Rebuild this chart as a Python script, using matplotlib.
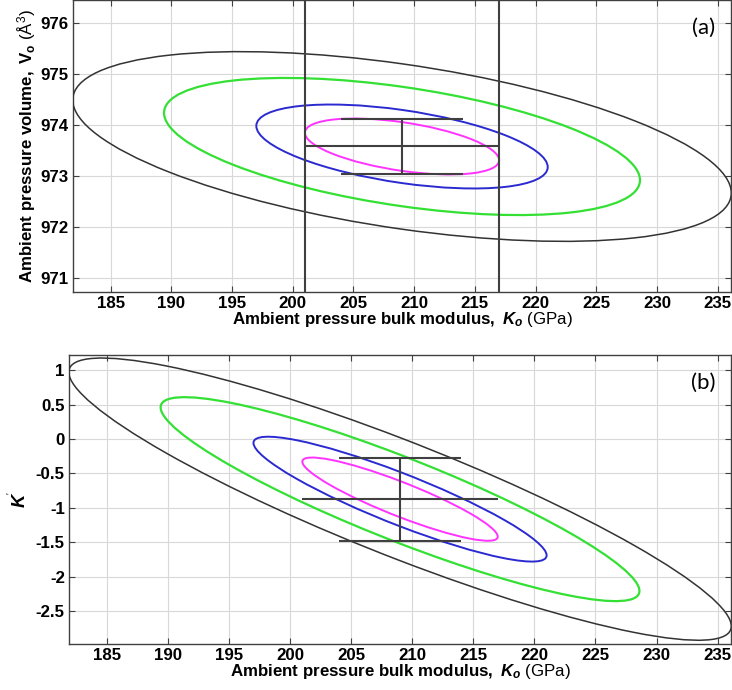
import numpy as np
import matplotlib
matplotlib.use("Agg")
import matplotlib.pyplot as plt
from matplotlib.patches import Ellipse

plt.rcParams['font.family'] = ['Liberation Sans', 'DejaVu Sans']
plt.rcParams['mathtext.fontset'] = 'custom'
plt.rcParams['mathtext.rm'] = 'Liberation Sans'
plt.rcParams['mathtext.bf'] = 'Liberation Sans:bold'
plt.rcParams['mathtext.it'] = 'Liberation Sans:italic'
plt.rcParams['mathtext.bfit'] = 'Liberation Sans:italic:bold'

# fitted parameters (value, 1-sigma) and correlations
K0, sK0 = 209.0, 8.0          # GPa
V0, sV0 = 973.58, 0.55        # A^3
Kp, sKp = -0.875, 0.605
rho_KV = -0.49
rho_KKp = -0.90

# confidence ellipse scale factors (sqrt of chi2, 2 parameters)
levels = [1.0, 1.5, 2.45, 3.39]
level_colors = ['#ff33ff', '#2a2ad0', '#33e033', '#333333']
level_widths = [1.4, 1.4, 1.6, 1.1]

cap_half = 5.0  # GPa, half-width of the caps on the vertical error bar

xticks = [185, 190, 195, 200, 205, 210, 215, 220, 225, 230, 235]
yticks_a = [971, 972, 973, 974, 975, 976]
yticks_b = [-2.5, -2, -1.5, -1, -0.5, 0, 0.5, 1]
xlim = (181.9, 236.1)
ylim_a = (970.72, 976.45)
ylim_b = (-2.98, 1.22)

TICK = 12.2
LAB = 12.2
EDGE = '#404040'


def conf_ellipses(ax, x0, sx, y0, sy, rho):
    cov = np.array([[sx**2, rho*sx*sy], [rho*sx*sy, sy**2]])
    vals, vecs = np.linalg.eigh(cov)
    ang = np.degrees(np.arctan2(vecs[1, 1], vecs[0, 1]))
    for s, c, lw in zip(levels, level_colors, level_widths):
        e = Ellipse((x0, y0), 2*s*np.sqrt(vals[1]), 2*s*np.sqrt(vals[0]),
                    angle=ang, fill=False, edgecolor=c, linewidth=lw, zorder=3)
        ax.add_patch(e)


def style(ax, yticks, ylim, ytl):
    ax.set_xlim(*xlim)
    ax.set_ylim(*ylim)
    ax.set_xticks(xticks)
    ax.set_xticklabels([str(t) for t in xticks], fontweight='bold', fontsize=TICK)
    ax.set_yticks(yticks)
    ax.set_yticklabels(ytl, fontweight='bold', fontsize=TICK)
    ax.grid(True, color='#d8d8d8', linewidth=0.8)
    ax.set_axisbelow(True)
    ax.tick_params(direction='in', top=True, right=True, length=4,
                   color=EDGE, pad=3)
    for sp in ax.spines.values():
        sp.set_color(EDGE)
        sp.set_linewidth(1.0)
    ax.set_xlabel(r'$\mathbf{Ambient\ pressure\ bulk\ modulus,\ }\mathbfit{K_o}$ (GPa)',
                  fontsize=LAB, labelpad=-1)


fig = plt.figure(figsize=(7.32, 6.9), dpi=100)

# (a) K0 - V0
ax1 = fig.add_axes([0.0997, 0.5768, 0.899, 0.4225])
conf_ellipses(ax1, K0, sK0, V0, sV0, rho_KV)
ax1.axvline(K0 - sK0, color=EDGE, lw=1.5, zorder=4)
ax1.axvline(K0 + sK0, color=EDGE, lw=1.5, zorder=4)
ax1.hlines(V0, K0 - sK0, K0 + sK0, color=EDGE, lw=1.5, zorder=4)
ax1.vlines(K0, V0 - sV0, V0 + sV0, color=EDGE, lw=1.5, zorder=4)
ax1.hlines([V0 - sV0, V0 + sV0], K0 - cap_half, K0 + cap_half, color=EDGE, lw=1.5, zorder=4)
style(ax1, yticks_a, ylim_a, [str(t) for t in yticks_a])
ax1.set_ylabel(r'$\mathbf{Ambient\ pressure\ volume,\ V_o}$ (Å$^3$)',
               fontsize=LAB, labelpad=2)
ax1.text(0.958, 0.905, '(a)', transform=ax1.transAxes, fontsize=16,
         family='Lato', ha='center', va='center')

# (b) K0 - K'
ax2 = fig.add_axes([0.0943, 0.0667, 0.9044, 0.4188])
conf_ellipses(ax2, K0, sK0, Kp, sKp, rho_KKp)
ax2.hlines(Kp, K0 - sK0, K0 + sK0, color=EDGE, lw=1.5, zorder=4)
ax2.vlines(K0, Kp - sKp, Kp + sKp, color=EDGE, lw=1.5, zorder=4)
ax2.hlines([Kp - sKp, Kp + sKp], K0 - cap_half, K0 + cap_half, color=EDGE, lw=1.5, zorder=4)
style(ax2, yticks_b, ylim_b, ['%g' % t for t in yticks_b])
ax2.set_ylabel(r"$\mathbfit{K}^{'}$", fontsize=LAB + 1, labelpad=4)
ax2.text(0.958, 0.905, '(b)', transform=ax2.transAxes, fontsize=16,
         family='Lato', ha='center', va='center')

fig.savefig('out.png', dpi=100)
